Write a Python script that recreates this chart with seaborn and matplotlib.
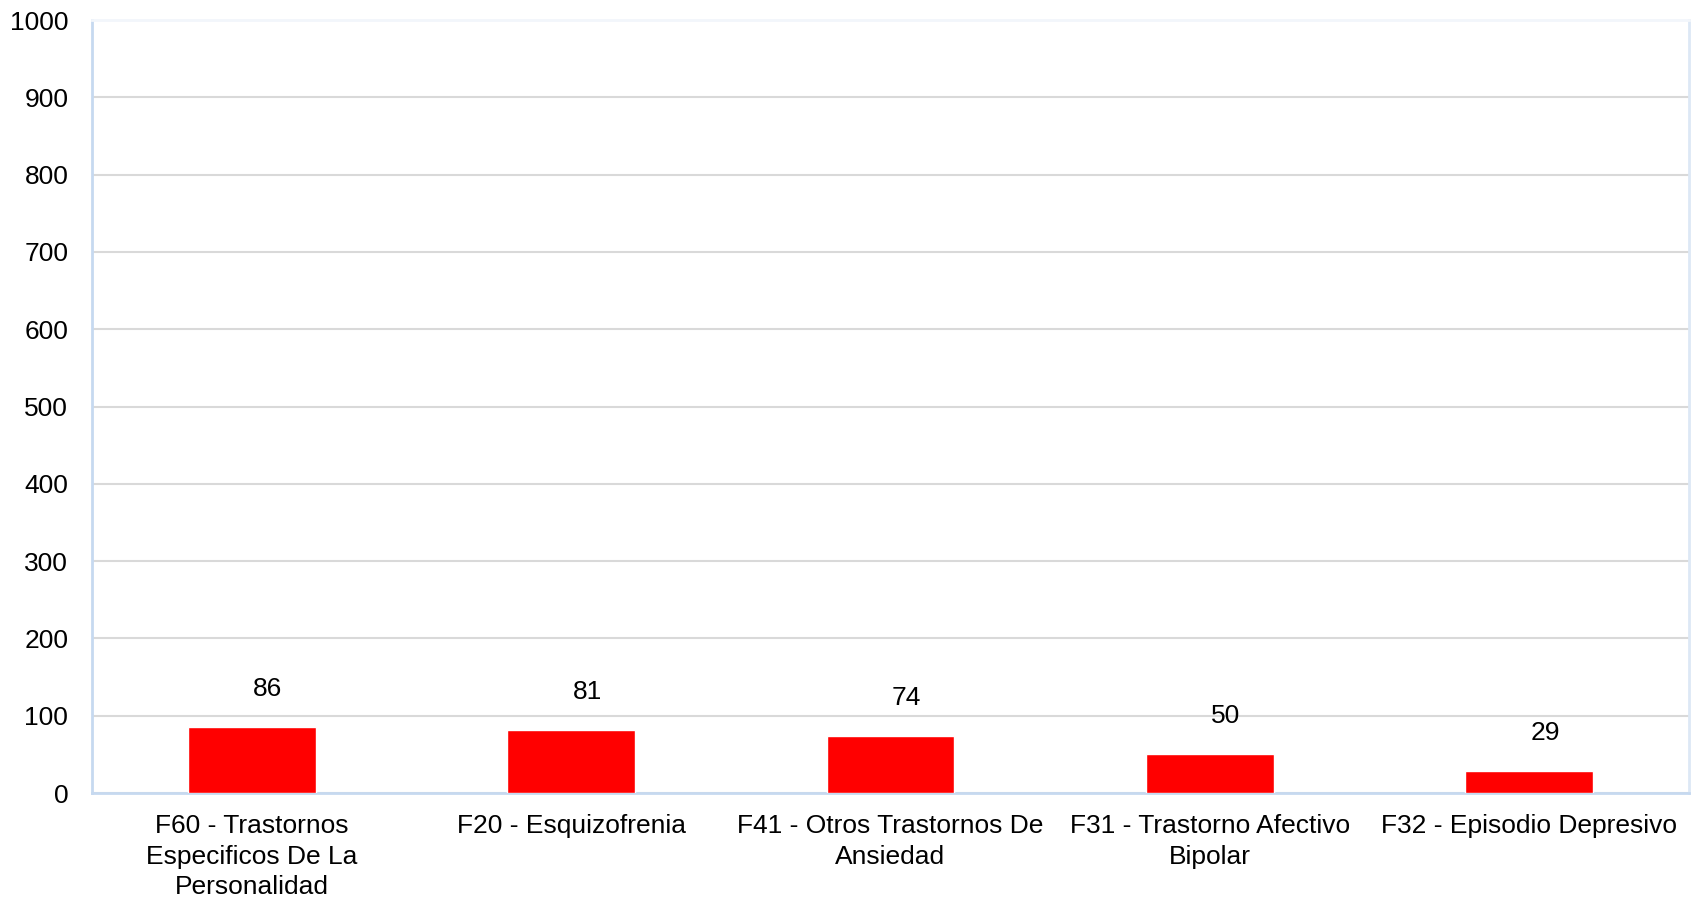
import pandas as pd
import matplotlib.pyplot as plt
import seaborn as sns

# Datos del gráfico
categorias = ["F60 - Trastornos\nEspecificos De La\nPersonalidad",
              "F20 - Esquizofrenia",
              "F41 - Otros Trastornos De\nAnsiedad",
              "F31 - Trastorno Afectivo\nBipolar",
              "F32 - Episodio Depresivo"]
valores = [86, 81, 74, 50, 29]
ticks_y = [0, 100, 200, 300, 400, 500, 600, 700, 800, 900, 1000]

datos = pd.DataFrame({"diagnostico": categorias, "casos": valores})

sns.set_style("white")
plt.rcParams["font.family"] = ["Liberation Sans", "DejaVu Sans"]
plt.rcParams["text.color"] = "black"
plt.rcParams["xtick.color"] = "black"
plt.rcParams["ytick.color"] = "black"

fig = plt.figure(figsize=(16.96, 8.97), dpi=100)
ax = fig.add_axes([0.0542, 0.1159, 0.9417, 0.8618])

sns.barplot(data=datos, x="diagnostico", y="casos", color="#ff0000",
            width=0.4, saturation=1, ax=ax, zorder=3)

ax.set_ylim(0, 1000)
ax.set_xlim(-0.5, len(categorias) - 0.5)
ax.set_yticks(ticks_y)
ax.yaxis.grid(True, color="#d9d9d9", linewidth=1.5, zorder=0)
ax.set_axisbelow(True)
ax.set_xlabel("")
ax.set_ylabel("")
ax.tick_params(axis="y", length=0, pad=17, labelsize=19, labelcolor="black")
ax.tick_params(axis="x", length=0, pad=15, labelsize=19, labelcolor="black")
for lbl in ax.get_xticklabels():
    lbl.set_linespacing(1.35)

# Bordes
ax.spines["left"].set_color("#c6d9f0")
ax.spines["bottom"].set_color("#c6d9f0")
ax.spines["left"].set_linewidth(2)
ax.spines["bottom"].set_linewidth(2)
ax.spines["top"].set_color("#f2f6fb")
ax.spines["right"].set_color("#dde8f5")
ax.spines["top"].set_linewidth(2)
ax.spines["right"].set_linewidth(2)

# Etiquetas de valores
for i, v in enumerate(valores):
    ax.annotate(str(v), (i, v), xytext=(16, 38), textcoords="offset pixels",
                ha="center", va="center", fontsize=19, color="black")

plt.savefig("out.png", dpi=100)
plt.close()
